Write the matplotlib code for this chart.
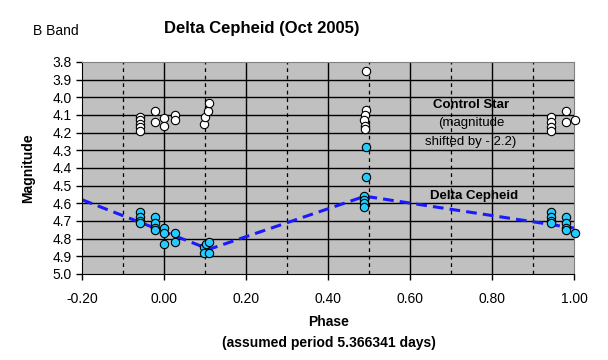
import matplotlib.pyplot as plt
import numpy as np

plt.rcParams['font.family'] = ['Liberation Sans', 'DejaVu Sans']

# control star (magnitude shifted by -2.2)
ctrl_phase = [-0.058, -0.058, -0.058, -0.058, -0.058,
              -0.022, -0.022, 0.0, 0.0, 0.027, 0.027,
              0.098, 0.100, 0.106, 0.109,
              0.492, 0.492, 0.490, 0.489, 0.490, 0.490,
              0.944, 0.944, 0.944, 0.945, 0.981, 0.981, 1.003]
ctrl_mag = [4.11, 4.13, 4.15, 4.17, 4.19,
            4.08, 4.14, 4.12, 4.16, 4.10, 4.13,
            4.15, 4.11, 4.08, 4.03,
            3.85, 4.07, 4.10, 4.13, 4.16, 4.18,
            4.11, 4.14, 4.17, 4.19, 4.08, 4.14, 4.13]

# delta cepheid
dc_phase = [-0.058, -0.058, -0.058, -0.058,
            -0.022, -0.022, -0.022, -0.022,
            0.0, 0.0, 0.0, 0.027, 0.026,
            0.098, 0.103, 0.109, 0.098, 0.109,
            0.492, 0.492, 0.489, 0.489, 0.489, 0.489,
            0.944, 0.944, 0.945, 0.945,
            0.981, 0.981, 0.981, 0.981, 1.003]
dc_mag = [4.65, 4.68, 4.70, 4.71,
          4.68, 4.71, 4.74, 4.75,
          4.74, 4.77, 4.83, 4.77, 4.82,
          4.85, 4.83, 4.82, 4.88, 4.88,
          4.28, 4.45, 4.56, 4.58, 4.60, 4.62,
          4.65, 4.68, 4.70, 4.71,
          4.68, 4.71, 4.74, 4.75, 4.77]

# model curve
fit_phase = [-0.20, 0.11, 0.49, 1.00]
fit_mag = [4.58, 4.86, 4.56, 4.74]

fig = plt.figure(figsize=(6.08, 3.6), dpi=100)
ax = fig.add_axes([0.135, 0.239, 0.809, 0.589])
ax.set_facecolor('#c0c0c0')

ax.set_xlim(-0.2, 1.0)
ax.set_ylim(5.0, 3.8)
ax.set_xticks(np.arange(-0.2, 1.01, 0.2))
ax.set_xticklabels(['-0.20', '0.00', '0.20', '0.40', '0.60', '0.80', '1.00'])
ax.set_yticks(np.arange(3.8, 5.01, 0.1))
ax.set_yticklabels(['%.1f' % v for v in np.arange(3.8, 5.01, 0.1)])
ax.tick_params(labelsize=10, direction='out', length=4, width=1)
ax.tick_params(axis='x', pad=9)

for y in np.arange(3.9, 5.0, 0.1):
    ax.axhline(y, color='black', lw=1, zorder=1)
for x in np.arange(0.0, 1.0, 0.2):
    ax.axvline(x, color='black', lw=1, zorder=1)
for x in np.arange(-0.1, 1.0, 0.2):
    ax.axvline(x, color='black', lw=0.9, ls=(0, (3, 3)), zorder=1)

for s in ['top', 'right']:
    ax.spines[s].set_color('#808080')
for s in ['left', 'bottom']:
    ax.spines[s].set_color('black')

ax.plot(fit_phase, fit_mag, color='#1a1aff', lw=2.2, ls=(0, (3.5, 2)), zorder=2)
ax.plot(ctrl_phase, ctrl_mag, 'o', ms=6, mfc='white', mec='black', mew=0.8, zorder=3, clip_on=False)
ax.plot(dc_phase, dc_mag, 'o', ms=6, mfc='#22ccff', mec='black', mew=0.8, zorder=3, clip_on=False)

ax.text(0.749, 4.044, 'Control Star', ha='center', va='center', fontsize=9.5, fontweight='bold')
ax.text(0.749, 4.147, '(magnitude', ha='center', va='center', fontsize=9.5)
ax.text(0.747, 4.255, 'shifted by - 2.2)', ha='center', va='center', fontsize=9.5)
ax.text(0.756, 4.556, 'Delta Cepheid', ha='center', va='center', fontsize=9.5, fontweight='bold')

fig.text(0.43, 0.922, 'Delta Cepheid (Oct 2005)', ha='center', va='center', fontsize=12, fontweight='bold')
fig.text(0.054, 0.915, 'B Band', ha='left', va='center', fontsize=10)
ax.set_ylabel('Magnitude', fontsize=10, fontweight='bold', labelpad=12)
fig.text(0.541, 0.105, 'Phase', ha='center', va='center', fontsize=10, fontweight='bold')
fig.text(0.541, 0.047, '(assumed period 5.366341 days)', ha='center', va='center', fontsize=10, fontweight='bold')

fig.savefig('out.png', dpi=100)
